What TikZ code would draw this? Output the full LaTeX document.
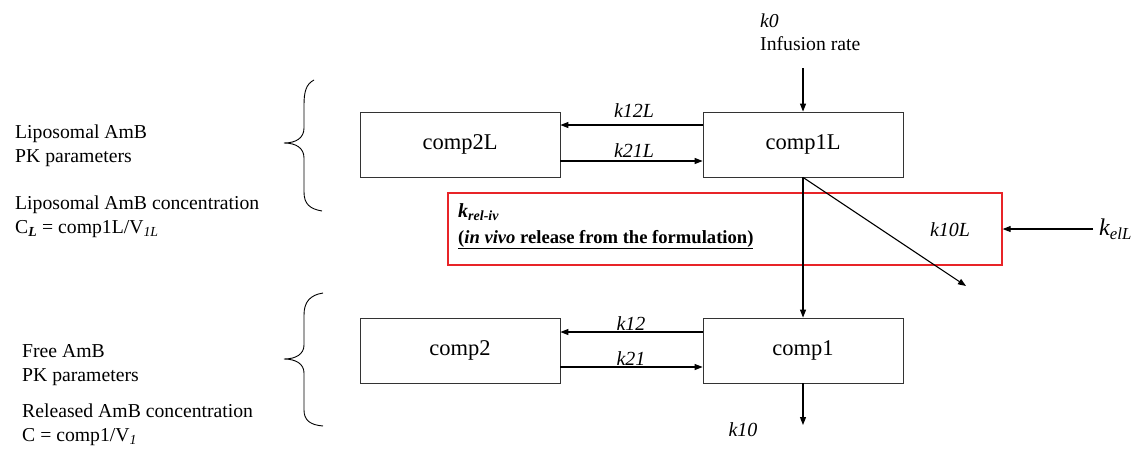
\documentclass[tikz,border=0pt]{standalone}
\usepackage{fontspec}
\setmainfont{Liberation Serif}
\usetikzlibrary{arrows.meta}
\definecolor{redbox}{RGB}{232,36,40}
\begin{document}
\begin{tikzpicture}[x=1pt,y=-1pt,
  box/.style={draw=black!80, line width=0.8pt, minimum width=200pt, minimum height=65pt, inner sep=0pt, font=\fontsize{22.5}{26}\selectfont},
  arr/.style={line width=1.1pt, -{Triangle[length=8pt,width=6pt]}},
  rate/.style={font=\fontsize{20}{24}\selectfont\itshape, inner sep=0pt},
  txt/.style={font=\fontsize{19.7}{23}\selectfont, anchor=mid west, inner sep=0pt},
  brc/.style={line width=0.9pt}]
\useasboundingbox (0,0) rectangle (1139,450);

% red release box (behind the connectors)
\node[draw=redbox, line width=1.3pt, minimum width=554pt, minimum height=72pt, inner sep=0pt] (rel) at (725,229) {};
\node[anchor=mid west, inner sep=0pt, font=\fontsize{20}{22}\selectfont\bfseries\itshape] (krel) at (458,215) {k\textsubscript{rel-iv}};
\node[anchor=mid west, inner sep=0pt, font=\fontsize{18.6}{22}\selectfont\bfseries] (invivo) at (458,241) {\underline{(\textit{in vivo} release from the formulation)}};

% compartments
\node[box] (comp2L) at (460,144.5) {comp2L};
\node[box] (comp1L) at (803,144.5) {comp1L};
\node[box] (comp2) at (460,350.5) {comp2};
\node[box] (comp1) at (803,350.5) {comp1};

% inter-compartment arrows
\draw[arr] ([yshift=19.5pt]comp1L.west) -- ([yshift=19.5pt]comp2L.east);
\draw[arr] ([yshift=-16.5pt]comp2L.east) -- ([yshift=-16.5pt]comp1L.west);
\draw[arr] ([yshift=18.5pt]comp1.west) -- ([yshift=18.5pt]comp2.east);
\draw[arr] ([yshift=-16.5pt]comp2.east) -- ([yshift=-16.5pt]comp1.west);
\node[rate] (k12L) at (634,111) {k12L};
\node[rate] (k21L) at (634,151) {k21L};
\node[rate] (k12) at (631,324) {k12};
\node[rate] (k21) at (631,359) {k21};

% infusion
\node[anchor=mid west, inner sep=0pt, font=\fontsize{19.7}{22}\selectfont\itshape] (k0) at (760,25) {k0};
\node[txt] (inf) at (760,48) {Infusion rate};
\coordinate (k0start) at (803,68);
\draw[arr] (k0start) -- (comp1L.north);

% release and elimination
\draw[arr] (comp1L.south) -- (comp1.north);
\coordinate (diagEnd) at (966,286);
\draw[arr] (comp1L.south) -- (diagEnd);
\node[rate] (k10L) at (950,230) {k10L};
\node[inner sep=0pt, anchor=west, font=\fontsize{24}{26}\selectfont\itshape] (kelL) at (1099,229) {k\textsubscript{elL}};
\draw[arr] ([xshift=-6pt]kelL.west) -- (rel.east);
\coordinate (k10end) at (803,425);
\draw[arr] (comp1.south) -- (k10end);
\node[rate] (k10) at (743,430) {k10};

% left texts
\node[txt] (t1) at (15,136) {Liposomal AmB};
\node[txt] (t2) at (15,160) {PK parameters};
\node[txt] (t3) at (15,207) {Liposomal AmB concentration};
\node[txt] (t4) at (15,231) {C\textsubscript{\textbf{\textit{L}}} = comp1L/V\textsubscript{\textit{1L}}};
\node[txt] (t5) at (22,355) {Free AmB};
\node[txt] (t6) at (22,379) {PK parameters};
\node[txt] (t7) at (22,415) {Released AmB concentration};
\node[txt] (t8) at (22,439) {C = comp1/V\textsubscript{\textit{1}}};

% braces
\draw[brc] (314,80) .. controls (306,84) and (304,92) .. (304,105) -- (304,128)
  .. controls (304,138) and (296,143) .. (284,143)
  .. controls (296,143) and (304,148) .. (304,158) -- (304,192)
  .. controls (304,204) and (310,209) .. (322,211);
\draw[brc] (323,293) .. controls (310,295) and (304,302) .. (304,315) -- (304,345)
  .. controls (304,354) and (296,359) .. (284,359)
  .. controls (296,359) and (304,364) .. (304,373) -- (304,410)
  .. controls (304,420) and (310,425) .. (323,426);
\end{tikzpicture}
\end{document}
